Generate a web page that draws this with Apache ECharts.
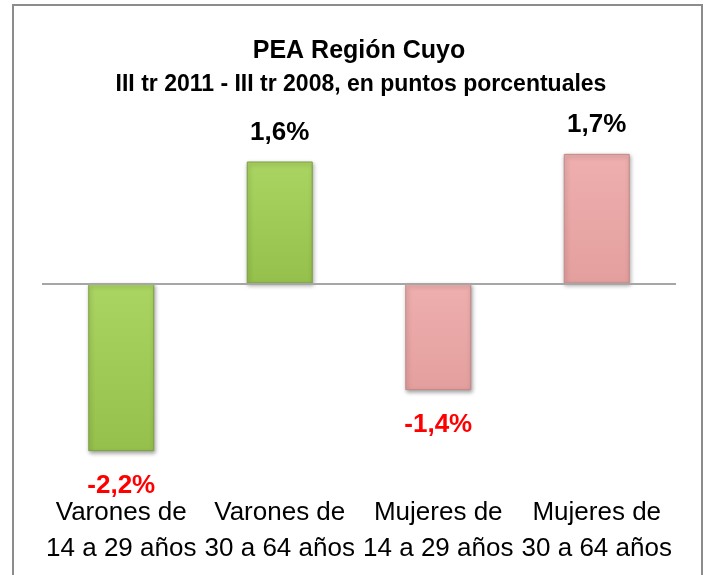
<!DOCTYPE html>
<html>
<head>
<meta charset="utf-8">
<script src="https://cdn.jsdelivr.net/npm/echarts@6/dist/echarts.min.js"></script>
<style>
  html, body { margin: 0; padding: 0; background: #ffffff; }
  #main { width: 707px; height: 575px; }
</style>
</head>
<body>
<div id="main"></div>
<script>
var categories = [
  "Varones de\n14 a 29 años",
  "Varones de\n30 a 64 años",
  "Mujeres de\n14 a 29 años",
  "Mujeres de\n30 a 64 años"
];
var values = [-2.2, 1.6, -1.4, 1.7];
var groups = ["varones", "varones", "mujeres", "mujeres"];

var font = "'Liberation Sans', Arial, sans-serif";

var fills = {
  varones: new echarts.graphic.LinearGradient(0, 0, 0, 1, [
    { offset: 0, color: "#aad562" },
    { offset: 1, color: "#94c04b" }
  ]),
  mujeres: new echarts.graphic.LinearGradient(0, 0, 0, 1, [
    { offset: 0, color: "#eeafae" },
    { offset: 1, color: "#e39f9e" }
  ])
};
var borders = { varones: "#7f9f44", mujeres: "#c38987" };

var seriesData = values.map(function (v, i) {
  var g = groups[i];
  return {
    value: v,
    itemStyle: {
      color: fills[g],
      borderColor: borders[g],
      borderWidth: 1,
      shadowColor: "rgba(0,0,0,0.35)",
      shadowBlur: 4,
      shadowOffsetX: 1,
      shadowOffsetY: 2
    },
    label: {
      position: v < 0 ? "bottom" : "top",
      distance: v < 0 ? 22 : 16,
      color: v < 0 ? "#ff0000" : "#000000"
    }
  };
});

var chart = echarts.init(document.getElementById("main"));
chart.setOption({
  animation: false,
  backgroundColor: "#ffffff",
  title: [
    {
      text: "PEA Región Cuyo",
      left: 354,
      top: 34,
      textAlign: "center",
      textStyle: { fontFamily: font, fontWeight: "bold", fontSize: 25, color: "#000000" }
    },
    {
      text: "III tr 2011 - III tr 2008, en puntos porcentuales",
      left: 356,
      top: 68,
      textAlign: "center",
      textStyle: { fontFamily: font, fontWeight: "bold", fontSize: 23, color: "#000000" }
    }
  ],
  graphic: [
    {
      type: "rect",
      shape: { x: 13, y: 5, width: 689, height: 600 },
      style: { fill: "none", stroke: "#8c8c8c", lineWidth: 2 },
      silent: true
    }
  ],
  grid: { left: 42, right: 31, top: 131, height: 343 },
  xAxis: {
    type: "category",
    data: categories,
    axisLine: { show: false, onZero: false },
    axisTick: { show: false },
    axisLabel: {
      interval: 0,
      margin: 21,
      fontFamily: font,
      fontSize: 26,
      lineHeight: 36,
      color: "#000000"
    }
  },
  yAxis: {
    type: "value",
    min: -2.5,
    max: 2,
    show: false,
    splitLine: { show: false }
  },
  series: [
    {
      type: "bar",
      barWidth: 66,
      data: seriesData,
      label: {
        show: true,
        fontFamily: font,
        fontWeight: "bold",
        fontSize: 26,
        formatter: function (p) {
          return p.value.toFixed(1).replace(".", ",") + "%";
        }
      },
      markLine: {
        silent: true,
        symbol: "none",
        label: { show: false },
        lineStyle: { color: "#a6a6a6", width: 2, type: "solid" },
        data: [{ yAxis: 0 }]
      }
    }
  ]
});
</script>
</body>
</html>
